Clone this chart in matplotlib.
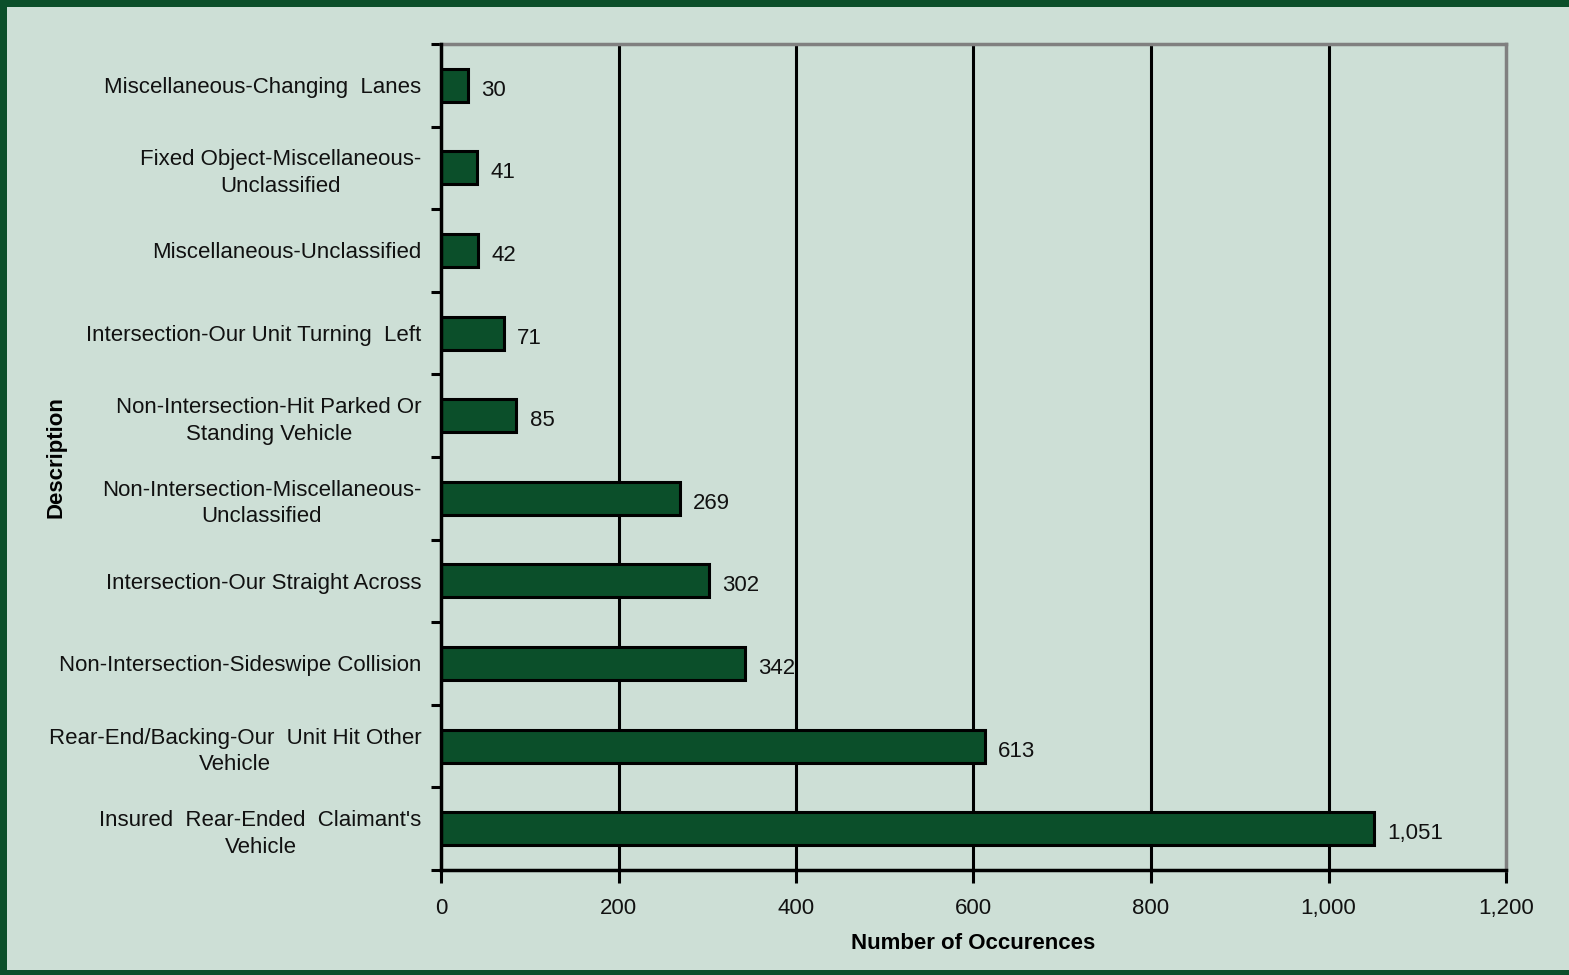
import matplotlib.pyplot as plt
from matplotlib.patches import Rectangle

plt.rcParams['font.family'] = ['Liberation Sans', 'DejaVu Sans']

# 事故类型与次数（自上而下）
categories = [
    "Miscellaneous-Changing  Lanes",
    "Fixed Object-Miscellaneous-\nUnclassified",
    "Miscellaneous-Unclassified",
    "Intersection-Our Unit Turning  Left",
    "Non-Intersection-Hit Parked Or\nStanding Vehicle",
    "Non-Intersection-Miscellaneous-\nUnclassified",
    "Intersection-Our Straight Across",
    "Non-Intersection-Sideswipe Collision",
    "Rear-End/Backing-Our  Unit Hit Other\nVehicle",
    "Insured  Rear-Ended  Claimant's\nVehicle",
]
counts = [30, 41, 42, 71, 85, 269, 302, 342, 613, 1051]
x_ticks = [0, 200, 400, 600, 800, 1000, 1200]

bg = '#cddfd6'
green = '#0b4f2a'
fs = 16

W, H = 1569, 975
fig = plt.figure(figsize=(W / 100, H / 100), dpi=100, facecolor=bg)

# 外框（上、左、下）
for x0, y0, w, h in [(0, H - 7, W, 7), (0, 0, 7, H), (0, 0, W, 5)]:
    fig.add_artist(Rectangle((x0 / W, y0 / H), w / W, h / H, transform=fig.transFigure,
                             facecolor=green, edgecolor='none'))

ax = fig.add_axes([441 / W, (H - 870) / H, (1506 - 441) / W, (870 - 44) / H])
ax.set_facecolor(bg)

y = list(range(len(categories)))
ax.barh(y, counts, height=0.4, color=green, edgecolor='black', linewidth=2.2, zorder=3)
for yi, v in zip(y, counts):
    ax.text(v + 15, yi + 0.06, f'{v:,}', va='center', ha='left', fontsize=fs, color='#111111', zorder=4)

ax.set_ylim(len(categories) - 0.5, -0.5)
ax.set_xlim(0, 1200)

# 纵向网格
for xv in x_ticks[1:-1]:
    ax.axvline(xv, color='black', linewidth=2.2, zorder=1)

ax.set_xticks(x_ticks)
ax.set_xticklabels([f'{v:,}' for v in x_ticks], fontsize=fs, color='#111111')
ax.set_yticks([i - 0.5 for i in range(len(categories) + 1)], minor=False)
ax.set_yticklabels([])
ax.set_yticks(y, minor=True)
ax.set_yticklabels(categories, minor=True, fontsize=fs, color='#111111',
                   multialignment='center', linespacing=1.35)
ax.tick_params(axis='y', which='major', length=7, width=2.2, direction='out')
ax.tick_params(axis='y', which='minor', length=0, pad=14)
ax.tick_params(axis='x', length=9, width=2.2, direction='out', pad=11)
for lab in ax.get_yticklabels(minor=True):
    lab.set_horizontalalignment('right')

for s in ['left', 'bottom']:
    ax.spines[s].set_color('black')
    ax.spines[s].set_linewidth(2.5)
for s in ['top', 'right']:
    ax.spines[s].set_color('#808080')
    ax.spines[s].set_linewidth(2.5)
ax.spines['bottom'].set_zorder(5)
ax.spines['left'].set_zorder(5)

ax.set_xlabel('Number of Occurences', fontsize=fs, fontweight='bold')
ax.set_ylabel('Description', fontsize=fs, fontweight='bold')
ax.yaxis.set_label_coords(-375 / (1506 - 441), 0.5)
ax.xaxis.set_label_coords(0.5, -(933 - 870) / (870 - 44))

fig.savefig('out.png', dpi=100, facecolor=bg)
